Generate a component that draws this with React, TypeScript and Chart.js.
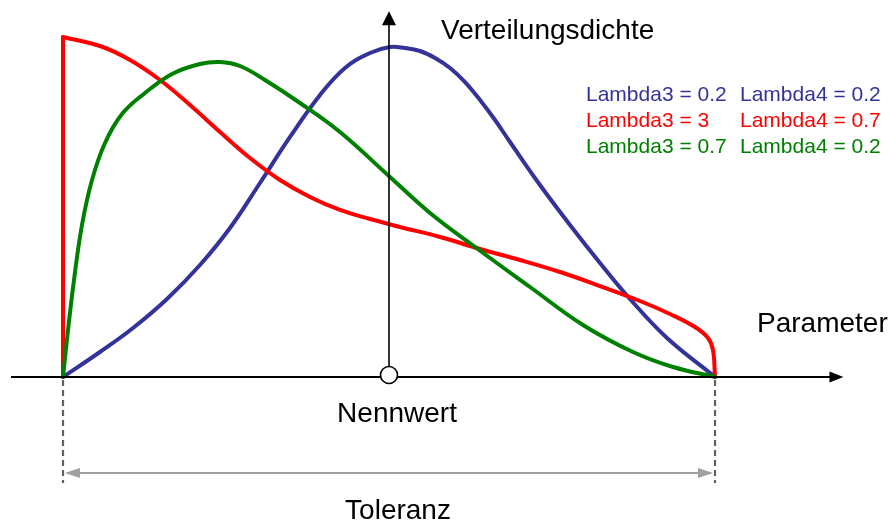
import React, { useEffect, useRef } from "react";
import { Chart, registerables } from "chart.js";

Chart.register(...registerables);

// Normalised parameter (0 = lower tolerance limit, 1 = upper limit) and density
const BLUE_X = [0, 0.0567, 0.1074, 0.1595, 0.2101, 0.2561, 0.3021, 0.3482, 0.3942, 0.4325, 0.4709, 0.5015, 0.5245, 0.5475, 0.5706, 0.5936, 0.6166, 0.6396, 0.6626, 0.6856, 0.7316, 0.7776, 0.8236, 0.8696, 0.9264, 1.0];
const BLUE_Y = [0, 0.0735, 0.1441, 0.2294, 0.3294, 0.4382, 0.5706, 0.7059, 0.8294, 0.9088, 0.9529, 0.9706, 0.9676, 0.9588, 0.9382, 0.9088, 0.8676, 0.8147, 0.7559, 0.6912, 0.5647, 0.4471, 0.3353, 0.2294, 0.1147, 0];

const RED_EDGE_X = [0, 0];
const RED_EDGE_Y = [0, 1.0];
const RED_X = [0, 0.0567, 0.1028, 0.1488, 0.1948, 0.2408, 0.2868, 0.3328, 0.3788, 0.4248, 0.4709, 0.5169, 0.5782, 0.6396, 0.7009, 0.7623, 0.8236, 0.885, 0.931, 0.9693, 0.9893, 0.9969, 1.0];
const RED_Y = [1.0, 0.9735, 0.9324, 0.8735, 0.8, 0.7206, 0.6441, 0.5794, 0.5294, 0.4912, 0.4647, 0.4412, 0.4118, 0.3765, 0.3441, 0.3088, 0.2676, 0.2235, 0.1853, 0.1471, 0.1147, 0.0794, 0];

const GREEN_X = [0, 0.0077, 0.0169, 0.0291, 0.0445, 0.0644, 0.0905, 0.1258, 0.1672, 0.2101, 0.2408, 0.2715, 0.3098, 0.3635, 0.4248, 0.5015, 0.5629, 0.6319, 0.7163, 0.7975, 0.8742, 0.9356, 1.0];
const GREEN_Y = [0, 0.1382, 0.2853, 0.4471, 0.5794, 0.6882, 0.7735, 0.8353, 0.8912, 0.9206, 0.9265, 0.9147, 0.8735, 0.8059, 0.7206, 0.5882, 0.4824, 0.3824, 0.2647, 0.1529, 0.0735, 0.0294, 0];

const LAMBDA3 = [0.2, 3, 0.7];
const LAMBDA4 = [0.2, 0.7, 0.2];
const SERIES_COLORS = ["#333399", "#ff0000", "#008000"];

const LABEL_Y_AXIS = "Verteilungsdichte";
const LABEL_X_AXIS = "Parameter";
const LABEL_NOMINAL = "Nennwert";
const LABEL_TOLERANCE = "Toleranz";

const NOMINAL = 0.5;
const X_MIN = -63 / 652;
const X_MAX = (896 - 63) / 652;
const Y_MIN = -(523 - 377) / 340;
const Y_MAX = 1 + 37 / 340;

const FONT = '"Liberation Sans", Arial, sans-serif';

function pts(xs: number[], ys: number[]) {
  return xs.map((x, i) => ({ x, y: ys[i] }));
}

const decor = {
  id: "decor",
  afterDatasetsDraw(chart: any) {
    const { ctx } = chart;
    const xs = chart.scales.x;
    const ys = chart.scales.y;
    const xL = xs.getPixelForValue(0);
    const xR = xs.getPixelForValue(1);
    const xM = xs.getPixelForValue(NOMINAL);
    const y0 = ys.getPixelForValue(0);
    ctx.save();

    // dashed tolerance limits
    ctx.strokeStyle = "#606060";
    ctx.lineWidth = 2.2;
    ctx.setLineDash([6, 4]);
    [xL, xR].forEach((px) => {
      ctx.beginPath();
      ctx.moveTo(px, y0 + 3);
      ctx.lineTo(px, y0 + 106);
      ctx.stroke();
    });
    ctx.setLineDash([]);

    // tolerance double arrow
    const ya = y0 + 96;
    ctx.strokeStyle = "#a0a0a0";
    ctx.fillStyle = "#a0a0a0";
    ctx.lineWidth = 2;
    ctx.beginPath();
    ctx.moveTo(xL + 4, ya);
    ctx.lineTo(xR - 4, ya);
    ctx.stroke();
    ctx.beginPath();
    ctx.moveTo(xL + 2, ya);
    ctx.lineTo(xL + 17, ya - 5);
    ctx.lineTo(xL + 17, ya + 5);
    ctx.closePath();
    ctx.fill();
    ctx.beginPath();
    ctx.moveTo(xR - 2, ya);
    ctx.lineTo(xR - 17, ya - 5);
    ctx.lineTo(xR - 17, ya + 5);
    ctx.closePath();
    ctx.fill();

    // x axis
    const xStart = xL - 52;
    const xTip = xs.getPixelForValue(1.197);
    ctx.strokeStyle = "#000";
    ctx.fillStyle = "#000";
    ctx.lineWidth = 2;
    ctx.beginPath();
    ctx.moveTo(xStart, y0);
    ctx.lineTo(xTip - 10, y0);
    ctx.stroke();
    ctx.beginPath();
    ctx.moveTo(xTip, y0);
    ctx.lineTo(xTip - 14, y0 - 5.5);
    ctx.lineTo(xTip - 14, y0 + 5.5);
    ctx.closePath();
    ctx.fill();

    // y axis
    const yTip = ys.getPixelForValue(1.076);
    ctx.lineWidth = 1.6;
    ctx.beginPath();
    ctx.moveTo(xM, y0);
    ctx.lineTo(xM, yTip + 10);
    ctx.stroke();
    ctx.beginPath();
    ctx.moveTo(xM, yTip);
    ctx.lineTo(xM - 7, yTip + 14);
    ctx.lineTo(xM + 7, yTip + 14);
    ctx.closePath();
    ctx.fill();

    // nominal value marker
    ctx.beginPath();
    ctx.arc(xM, y0 - 2, 8.5, 0, Math.PI * 2);
    ctx.fillStyle = "#fff";
    ctx.fill();
    ctx.lineWidth = 1.6;
    ctx.strokeStyle = "#000";
    ctx.stroke();

    // labels
    ctx.fillStyle = "#000";
    ctx.font = `28px ${FONT}`;
    ctx.textBaseline = "alphabetic";
    ctx.textAlign = "left";
    ctx.fillText(LABEL_Y_AXIS, xM + 52, 39);
    ctx.fillText(LABEL_X_AXIS, xR + 42, y0 - 45);
    ctx.textAlign = "center";
    ctx.fillText(LABEL_NOMINAL, xM + 8, y0 + 45);
    ctx.fillText(LABEL_TOLERANCE, xM + 9, y0 + 142);

    // legend
    ctx.font = `21px ${FONT}`;
    ctx.textAlign = "left";
    LAMBDA3.forEach((l3, i) => {
      const by = 101 + i * 26;
      ctx.fillStyle = SERIES_COLORS[i];
      ctx.fillText(`Lambda3 = ${l3}`, xM + 197, by);
      ctx.fillText(`Lambda4 = ${LAMBDA4[i]}`, xM + 351, by);
    });

    ctx.restore();
  },
};

export default function App() {
  const ref = useRef<HTMLCanvasElement>(null);
  useEffect(() => {
    if (!ref.current) return;
    const ds = (data: any, color: string, order: number, tension: number) => ({
      data,
      borderColor: color,
      backgroundColor: color,
      borderWidth: 4,
      pointRadius: 0,
      fill: false,
      tension,
      order,
      borderJoinStyle: "round" as const,
      borderCapStyle: "round" as const,
    });
    const chart = new Chart(ref.current, {
      type: "line",
      data: {
        datasets: [
          ds(pts(BLUE_X, BLUE_Y), SERIES_COLORS[0], 3, 0.4),
          ds(pts(RED_EDGE_X, RED_EDGE_Y), SERIES_COLORS[1], 2, 0),
          ds(pts(RED_X, RED_Y), SERIES_COLORS[1], 1, 0.4),
          ds(pts(GREEN_X, GREEN_Y), SERIES_COLORS[2], 0, 0.4),
        ],
      },
      options: {
        animation: false,
        responsive: false,
        devicePixelRatio: 1,
        layout: { padding: 0 },
        plugins: { legend: { display: false }, tooltip: { enabled: false } },
        scales: {
          x: { type: "linear", min: X_MIN, max: X_MAX, display: false },
          y: { type: "linear", min: Y_MIN, max: Y_MAX, display: false },
        },
      },
      plugins: [decor],
    });
    return () => chart.destroy();
  }, []);
  return (
    <div style={{ position: "fixed", left: 0, top: 0, width: 896, height: 523, background: "#fff" }}>
      <canvas ref={ref} width={896} height={523} style={{ display: "block" }} />
    </div>
  );
}
